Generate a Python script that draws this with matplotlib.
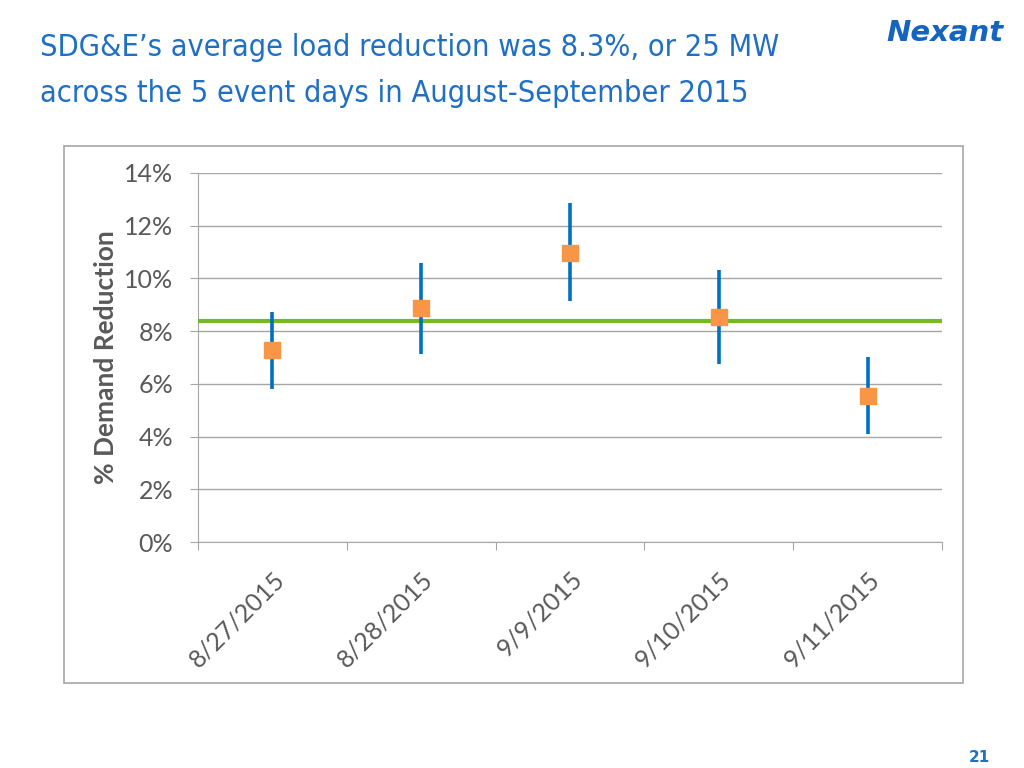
import matplotlib.pyplot as plt
from matplotlib.patches import Rectangle
from matplotlib.ticker import PercentFormatter

# event days and impact estimates (% demand reduction)
dates = ["8/27/2015", "8/28/2015", "9/9/2015", "9/10/2015", "9/11/2015"]
impact = [7.28, 8.88, 10.96, 8.54, 5.54]
upper = [8.72, 10.58, 12.86, 10.32, 7.02]
lower = [5.80, 7.13, 9.14, 6.75, 4.10]
average = 8.38

blue = "#0070C0"
orange = "#F79646"
green = "#77B82A"
gray_txt = "#595959"

fig = plt.figure(figsize=(10.24, 7.68), dpi=100)

# outer chart frame
fig.patches.append(Rectangle((64 / 1024, 1 - 683 / 768), 899 / 1024, 537 / 768,
                             transform=fig.transFigure, fill=False,
                             edgecolor="#A6A6A6", linewidth=1.2))

ax = fig.add_axes([198 / 1024, 1 - 542 / 768, 744 / 1024, 369 / 768])

x = list(range(len(dates)))
err_lo = [i - l for i, l in zip(impact, lower)]
err_hi = [u - i for i, u in zip(impact, upper)]

ax.axhline(average, color=green, linewidth=3, zorder=3)
ax.errorbar(x, impact, yerr=[err_lo, err_hi], fmt="none", ecolor=blue,
            elinewidth=2.6, capsize=0, zorder=4)
ax.plot(x, impact, linestyle="none", marker="s", markersize=11,
        color=orange, zorder=5)

ax.set_xlim(-0.5, len(dates) - 0.5)
ax.set_ylim(0, 14)
ax.set_yticks(range(0, 15, 2))
ax.yaxis.set_major_formatter(PercentFormatter(decimals=0))
ax.grid(axis="y", color="#A6A6A6", linewidth=1)
ax.set_axisbelow(True)

# category boundaries as tick marks, labels centred
ax.set_xticks([i - 0.5 for i in range(len(dates) + 1)])
ax.set_xticklabels([])
ax.set_xticks(x, minor=True)
ax.set_xticklabels(dates, minor=True, rotation=45, ha="right",
                   rotation_mode="anchor", fontsize=18, color=gray_txt,
                   family="Lato")
ax.tick_params(axis="x", which="minor", length=0, pad=18)
ax.tick_params(axis="x", which="major", length=6, color="#A6A6A6")
ax.tick_params(axis="y", length=6, color="#A6A6A6", labelsize=18,
               labelcolor=gray_txt, pad=12)
for lbl in ax.get_yticklabels():
    lbl.set_family("Lato")

for side in ["top", "right"]:
    ax.spines[side].set_visible(False)
ax.spines["left"].set_color("#A6A6A6")
ax.spines["bottom"].set_color("#A6A6A6")

ax.set_ylabel("% Demand Reduction", fontsize=19, fontweight="bold",
              color=gray_txt, family="Lato", labelpad=4)

# slide title
title_font = dict(fontsize=22, color="#1F6FC5", va="center",
                  family="DejaVu Sans", fontstretch="condensed")
fig.text(40 / 1024, 1 - 48 / 768,
         "SDG&E\u2019s average load reduction was 8.3%, or 25 MW", **title_font)
fig.text(40 / 1024, 1 - 94 / 768,
         "across the 5 event days in August-September 2015", **title_font)

# logo and page number
fig.text(1004 / 1024, 1 - 33 / 768, "Nexant", fontsize=21, color="#1565C0",
         fontweight="bold", fontstyle="italic", ha="right", va="center",
         family="DejaVu Sans")
fig.text(979 / 1024, 1 - 758 / 768, "21", fontsize=11, color="#1F6FC5",
         fontweight="bold", ha="center", va="center")

fig.savefig("out.png", dpi=100)
